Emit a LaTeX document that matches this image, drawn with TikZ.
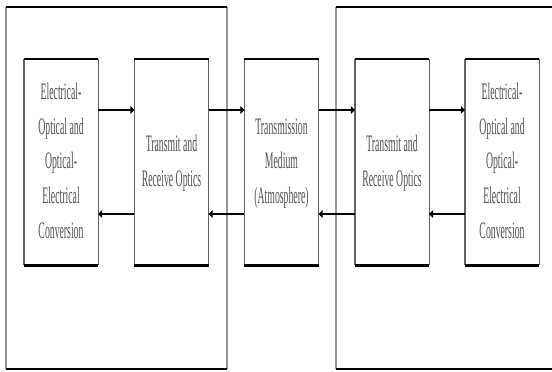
\documentclass[tikz,border=0pt]{standalone}
\usepackage{fontspec}
\setmainfont{Liberation Serif}
\usetikzlibrary{arrows.meta}
\newcommand\tallstack[1]{\scalebox{0.93}[2.25]{\fontsize{10.5}{12}\selectfont\renewcommand\arraystretch{1.28}\begin{tabular}{@{}c@{}}#1\end{tabular}}}
\tikzset{
  x=1pt, y=-1pt,
  blk/.style={minimum width=74pt, minimum height=206pt, inner sep=0pt, text=black!68},
  hedge/.style={line width=2.6pt, black},
  vedge/.style={line width=1.4pt, black!62},
  ohedge/.style={line width=2.8pt, black},
  ovedge/.style={line width=1.8pt, black!42},
  arr/.style={line width=2.6pt, black, -{Triangle[length=4pt,width=8pt]}}
}
\begin{document}
\begin{tikzpicture}
\useasboundingbox (0,0) rectangle (552,372);
\fill[white] (0,0) rectangle (552,372);
% outer enclosures
\coordinate (oltl) at (6,7);
\coordinate (oltr) at (227,7);
\coordinate (olbl) at (6,369);
\coordinate (olbr) at (227,369);
\coordinate (ortl) at (336,7);
\coordinate (ortr) at (552,7);
\coordinate (orbl) at (336,369);
\coordinate (orbr) at (552,369);
\draw[ovedge] (oltl) -- (olbl);
\draw[ovedge] (oltr) -- (olbr);
\draw[ovedge] (ortl) -- (orbl);
\draw[ohedge] (oltl) -- (oltr);
\draw[ohedge] (olbl) -- (olbr);
\draw[ohedge] (ortl) -- (ortr);
\draw[ohedge] (orbl) -- (orbr);
% blocks
\node[blk] (b1) at (61,162) {\tallstack{Electrical-\\Optical and\\Optical-\\Electrical\\Conversion}};
\node[blk] (b2) at (171.5,162) {\tallstack{Transmit and\\Receive Optics}};
\node[blk] (b3) at (281.5,162) {\tallstack{Transmission\\Medium\\(Atmosphere)}};
\node[blk] (b4) at (392,162) {\tallstack{Transmit and\\Receive Optics}};
\node[blk] (b5) at (502,162) {\tallstack{Electrical-\\Optical and\\Optical-\\Electrical\\Conversion}};
\foreach \b in {b1,b2,b3,b4,b5}{
  \draw[vedge] (\b.north west) -- (\b.south west);
  \draw[vedge] (\b.north east) -- (\b.south east);
  \draw[hedge] (\b.north west) -- (\b.north east);
  \draw[hedge] (\b.south west) -- (\b.south east);
}
% arrows
\foreach \a/\c in {b1/b2,b2/b3,b3/b4,b4/b5}{
  \draw[arr] ([yshift=52pt]\a.east) -- ([yshift=52pt]\c.west);
  \draw[arr] ([yshift=-52pt]\c.west) -- ([yshift=-52pt]\a.east);
}
\end{tikzpicture}
\end{document}
